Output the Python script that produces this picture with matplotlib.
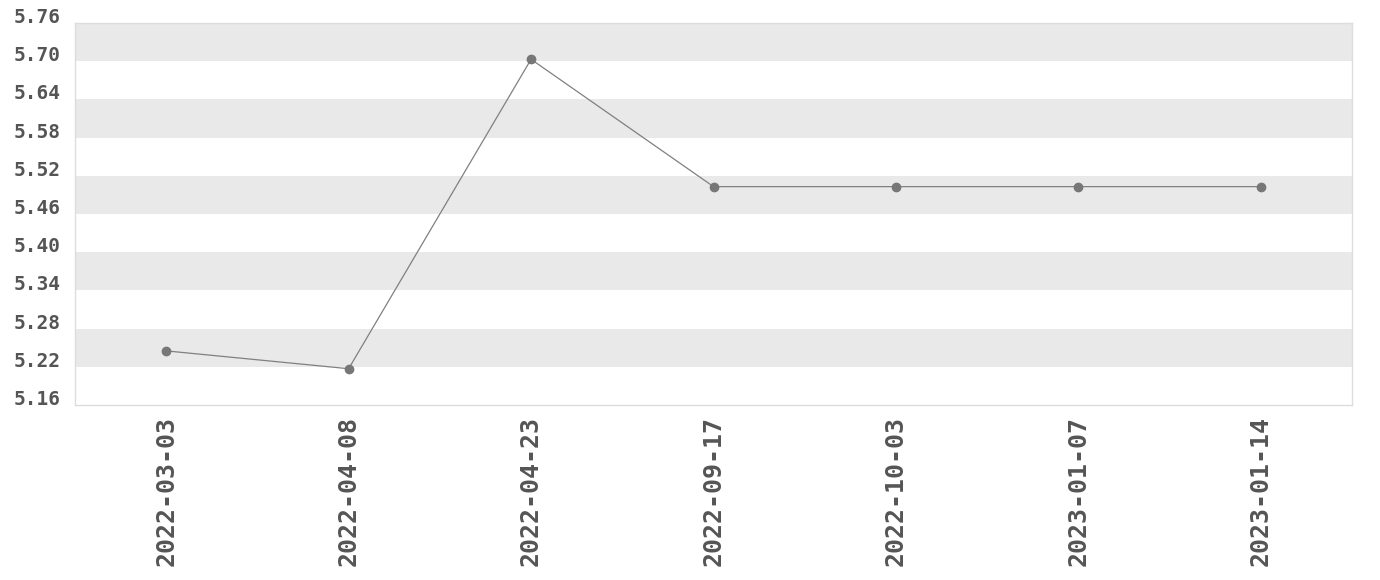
import numpy as np
import matplotlib
matplotlib.use("Agg")
import matplotlib.pyplot as plt

dates = ["2022-03-03", "2022-04-08", "2022-04-23", "2022-09-17",
         "2022-10-03", "2023-01-07", "2023-01-14"]
values = [5.245, 5.217, 5.703, 5.503, 5.503, 5.503, 5.503]
y_ticks = [5.16, 5.22, 5.28, 5.34, 5.40, 5.46, 5.52, 5.58, 5.64, 5.70, 5.76]

plt.rcParams["font.family"] = ["DejaVu Sans Mono"]
plt.rcParams["font.weight"] = "bold"

fig = plt.figure(figsize=(13.8, 5.8), dpi=100)
ax = fig.add_axes([75 / 1380, 1 - 405 / 580, (1352 - 75) / 1380, (405 - 23) / 580])

# alternating bands, gray at the top
for i in range(len(y_ticks) - 1):
    if (len(y_ticks) - 2 - i) % 2 == 0:
        ax.axhspan(y_ticks[i], y_ticks[i + 1], color="#e9e9e9", lw=0, zorder=0)

x = np.arange(len(dates))
ax.plot(x, values, color="#808080", lw=0.9, marker="o", markersize=6,
        markerfacecolor="#777777", markeredgecolor="#777777", zorder=3)

ax.set_xlim(-0.5, len(dates) - 0.5)
ax.set_ylim(y_ticks[0], y_ticks[-1])
ax.set_yticks(y_ticks)
ax.set_yticklabels([f"{v:.2f}" for v in y_ticks], fontsize=14, color="#555555",
                   va="baseline")
ax.set_xticks(x)
ax.set_xticklabels(dates, rotation=90, fontsize=18, color="#555555")
ax.tick_params(length=0)
ax.tick_params(axis="y", pad=10)
ax.tick_params(axis="x", pad=8)
for s in ax.spines.values():
    s.set_color("#dddddd")
    s.set_linewidth(1)

fig.savefig("out.png", dpi=100)
